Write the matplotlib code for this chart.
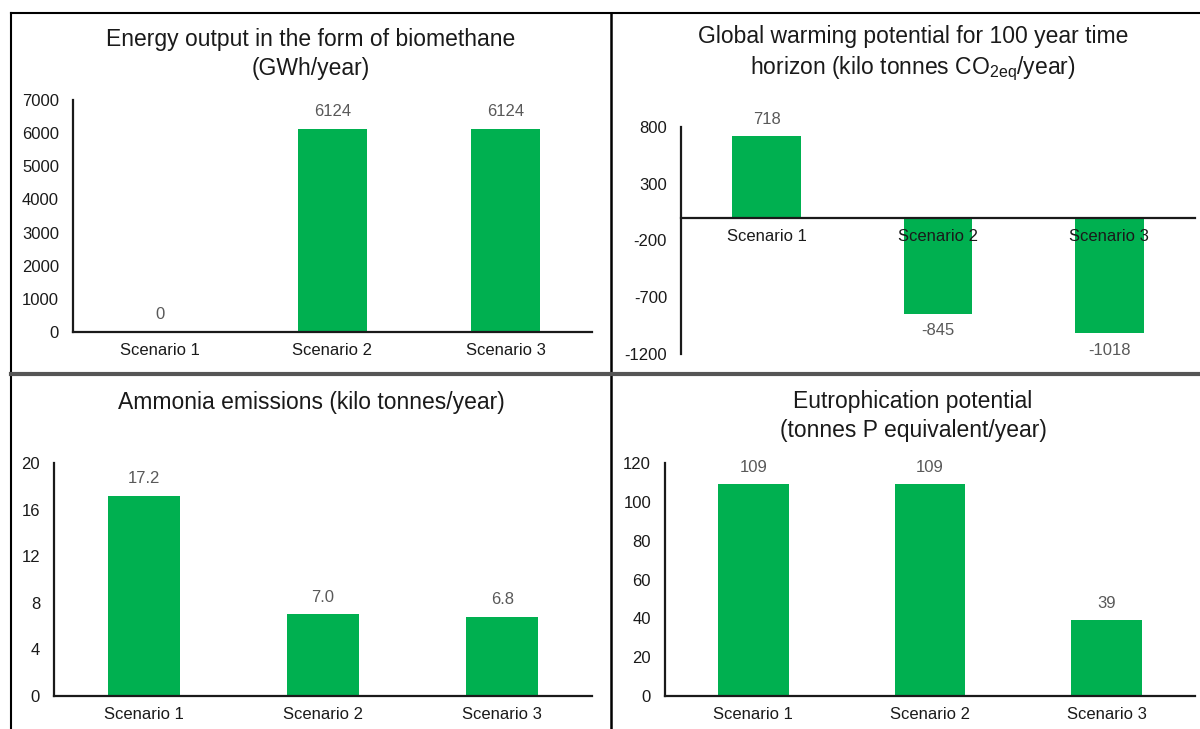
import matplotlib
matplotlib.use('Agg')
import matplotlib.pyplot as plt
from matplotlib.lines import Line2D

plt.rcParams['font.family'] = ['Liberation Sans', 'DejaVu Sans']
plt.rcParams['axes.unicode_minus'] = False

scenarios = ['Scenario 1', 'Scenario 2', 'Scenario 3']
biomethane = [0, 6124, 6124]
gwp = [718, -845, -1018]
ammonia = [17.2, 7.0, 6.8]
eutroph = [109, 109, 39]

bio_labels = ['0', '6124', '6124']
gwp_labels = ['718', '-845', '-1018']
amm_labels = ['17.2', '7.0', '6.8']
eut_labels = ['109', '109', '39']

GREEN = '#00b050'
W, H = 1200, 729

fig = plt.figure(figsize=(12, 7.29), dpi=100)


def px_axes(left, right, top, bottom):
    # pixel box (from top-left) -> figure fraction
    return fig.add_axes([left / W, 1 - bottom / H, (right - left) / W, (bottom - top) / H])


def style(ax, ylim, yticks):
    ax.set_xlim(-0.5, 2.5)
    ax.set_ylim(*ylim)
    ax.set_yticks(yticks)
    ax.set_xticks(range(len(scenarios)))
    ax.set_xticklabels(scenarios)
    for s in ['top', 'right']:
        ax.spines[s].set_visible(False)
    ax.spines['left'].set_linewidth(1.6)
    ax.spines['bottom'].set_linewidth(1.6)
    ax.spines['left'].set_color('#1a1a1a')
    ax.spines['bottom'].set_color('#1a1a1a')
    ax.tick_params(axis='y', length=0, pad=10, labelsize=12, labelcolor='#1a1a1a')
    ax.tick_params(axis='x', length=0, pad=8, labelsize=12, labelcolor='#1a1a1a')
    ax.patch.set_alpha(0)


def bars(ax, vals, labels):
    rects = ax.bar(range(len(vals)), vals, width=0.4, color=GREEN)
    for r, v, t in zip(rects, vals, labels):
        off = 7 if v >= 0 else -7
        va = 'bottom' if v >= 0 else 'top'
        ax.annotate(t, (r.get_x() + r.get_width() / 2, v), xytext=(0, off),
                    textcoords='offset points', ha='center', va=va,
                    fontsize=12, color='#595959')


# top-left
ax1 = px_axes(73, 592, 100, 332)
bars(ax1, biomethane, bio_labels)
style(ax1, (0, 7000), range(0, 7001, 1000))

# top-right
ax2 = px_axes(681, 1195, 127, 354)
bars(ax2, gwp, gwp_labels)
style(ax2, (-1200, 800), [800, 300, -200, -700, -1200])
ax2.spines['bottom'].set_position(('data', 0))

# bottom-left
ax3 = px_axes(54, 592, 463, 696)
bars(ax3, ammonia, amm_labels)
style(ax3, (0, 20), range(0, 21, 4))

# bottom-right
ax4 = px_axes(665, 1195, 463, 696)
bars(ax4, eutroph, eut_labels)
style(ax4, (0, 120), range(0, 121, 20))

tkw = dict(ha='center', va='center', fontsize=16.5, color='#1a1a1a', linespacing=1.35)
fig.text(311 / W, 1 - 54 / H, 'Energy output in the form of biomethane\n(GWh/year)', **tkw)
fig.text(913 / W, 1 - 54 / H,
         'Global warming potential for 100 year time\nhorizon (kilo tonnes CO$_{\\mathregular{2eq}}$/year)', **tkw)
fig.text(311 / W, 1 - 403 / H, 'Ammonia emissions (kilo tonnes/year)', **tkw)
fig.text(913 / W, 1 - 416 / H, 'Eutrophication potential\n(tonnes P equivalent/year)', **tkw)

# panel frame lines
def fline(x0, y0, x1, y1, **kw):
    fig.add_artist(Line2D([x0 / W, x1 / W], [1 - y0 / H, 1 - y1 / H], transform=fig.transFigure, **kw))

fline(11, 13, 1200, 13, color='black', lw=1.5)
fline(11, 13, 11, 729, color='black', lw=1.5)
fline(611, 13, 611, 729, color='black', lw=1.8)
fline(11, 374, 1200, 374, color='#555555', lw=3)

fig.savefig('out.png', dpi=100)
